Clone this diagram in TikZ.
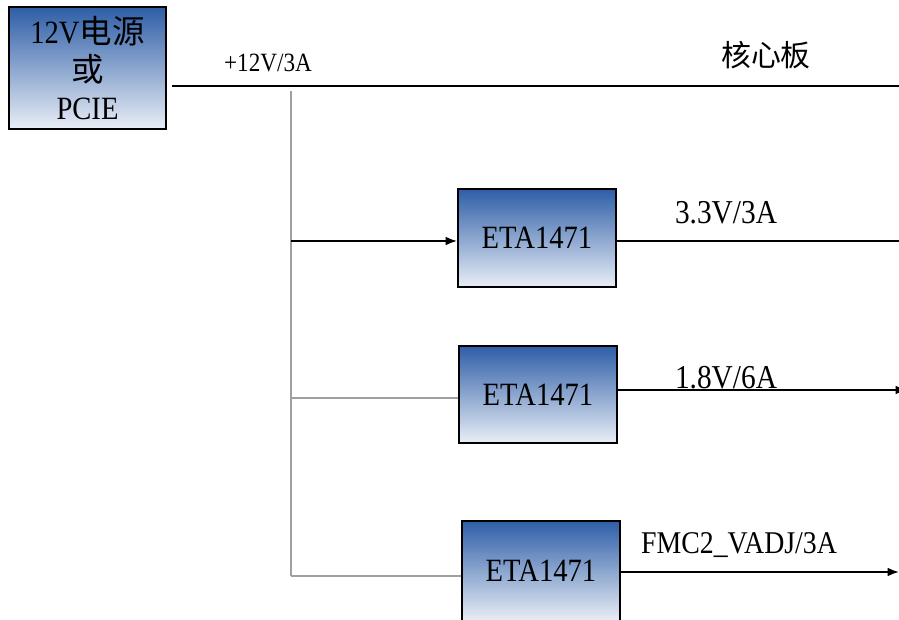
\documentclass[tikz,border=0pt]{standalone}
\usepackage{fontspec}
\setmainfont[FakeStretch=0.88]{Liberation Serif}
\newfontfamily\cjk{Noto Sans CJK SC}
\usetikzlibrary{arrows.meta}

\definecolor{boxtop}{HTML}{2E5EA7}
\definecolor{boxbottom}{HTML}{E9EEF6}
\definecolor{busgray}{HTML}{A0A0A0}

\begin{document}
\begin{tikzpicture}[x=0.02cm, y=-0.02cm]
    \tikzstyle{every node} = [inner sep=0pt]
    \tikzstyle{block} = [rectangle, draw, line width=1.1pt, top color=boxtop, bottom color=boxbottom,
        minimum width=3.16cm, minimum height=1.96cm, font=\fontsize{18.5}{21.5}\selectfont]
    \tikzstyle{volt} = [font=\fontsize{18}{20}\selectfont]
    \tikzstyle{wire} = [line width=1pt]
    \tikzstyle{bus} = [line width=0.6pt, busgray]
    \tikzstyle{tip} = [-{Latex[length=6.5pt,width=5pt]}]

    \useasboundingbox (0,0) rectangle (899,619);
    \clip (0,0) rectangle (899,619);

    \node[block, minimum width=3.14cm, minimum height=2.44cm, align=center] (src) at (87.5, 68)
        {12V{\cjk 电源}\\ {\cjk 或}\\ PCIE};

    \node[block] (reg1) at (537, 238) {ETA1471};
    \node[block, minimum height=1.94cm] (reg2) at (538, 394.5) {ETA1471};
    \node[block, minimum height=2cm] (reg3) at (541, 571) {ETA1471};

    \node[volt, font=\fontsize{15}{17}\selectfont] (vin) at (268, 63) {+12V/3A};
    \node[font=\fontsize{17}{19}\selectfont\cjk] (core) at (766, 55) {核心板};
    \node[volt, font=\fontsize{19}{21}\selectfont] (v33) at (726, 213) {3.3V/3A};
    \node[volt, font=\fontsize{19}{21}\selectfont] (v18) at (726, 378) {1.8V/6A};
    \node[volt] (vadj) at (739, 545) {FMC2\_VADJ/3A};

    \coordinate (main in) at (172, 86);
    \coordinate (main out) at (899, 86);
    \coordinate (bus top) at (291, 91);
    \coordinate (bus bottom) at (291, 576);
    \coordinate (tap1) at (291, 241);
    \coordinate (tap2) at (291, 398);
    \coordinate (tap3) at (291, 576);
    \coordinate (out1) at (899, 241);
    \coordinate (out2) at (907, 390);
    \coordinate (out3) at (899, 572);

    \draw [wire] (main in) -- (main out);
    \draw [bus] (bus top) -- (bus bottom);

    \draw [wire, tip] (tap1) -- (tap1 -| reg1.west);
    \draw [bus] (tap2) -- (tap2 -| reg2.west);
    \draw [bus] (tap3) -- (tap3 -| reg3.west);

    \draw [wire] (reg1.east |- out1) -- (out1);
    \draw [wire, tip] (reg2.east |- out2) -- (out2);
    \draw [wire, tip] (reg3.east |- out3) -- (out3);
\end{tikzpicture}
\end{document}
